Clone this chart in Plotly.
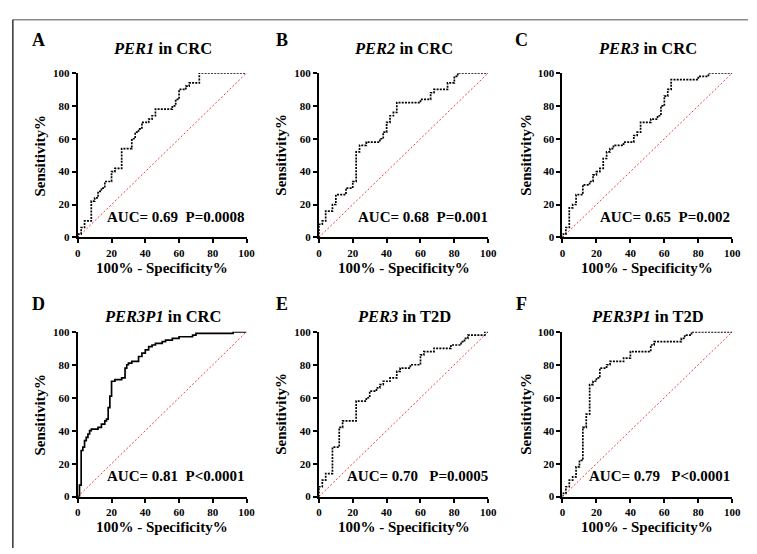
import plotly.graph_objects as go

W, H = 757, 554
FONT = "Liberation Serif, Times New Roman, serif"

# ---- data (staircase corner points: x = 100% - Specificity%, y = Sensitivity%) ----
per1_crc_fpr = [0, 0, 2, 4, 8, 10, 12, 14, 16, 20, 22, 26, 32, 34, 36, 38, 42, 44, 46, 56, 58, 60, 64, 66, 72, 100]
per1_crc_tpr = [0, 2, 6, 10, 22, 24, 28, 30, 34, 40, 42, 54, 60, 64, 66, 70, 72, 74, 78, 80, 84, 90, 92, 94, 100, 100]

per2_crc_fpr = [0, 0, 2, 4, 8, 10, 16, 20, 22, 24, 28, 36, 38, 40, 42, 44, 46, 60, 66, 68, 76, 80, 82, 100]
per2_crc_tpr = [0, 8, 10, 16, 20, 26, 30, 34, 52, 56, 58, 60, 64, 70, 74, 76, 82, 84, 88, 90, 94, 98, 100, 100]

per3_crc_fpr = [0, 0, 2, 4, 6, 8, 12, 16, 18, 20, 22, 24, 26, 28, 30, 36, 42, 44, 46, 52, 56, 58, 60, 62, 64, 80, 86, 100]
per3_crc_tpr = [0, 2, 6, 18, 20, 26, 32, 34, 38, 40, 42, 48, 52, 54, 56, 58, 62, 64, 70, 72, 74, 80, 86, 90, 96, 98, 100, 100]

per3p1_crc_fpr = [0, 1, 2, 3, 4, 5, 6, 7, 8, 12, 14, 16, 17, 18, 19, 20, 22, 26, 28, 29, 30, 32, 36, 38, 40, 42, 44, 46, 50, 52, 56, 60, 68, 70, 92, 100]
per3p1_crc_tpr = [0, 7, 28, 30, 34, 36, 38, 40, 41, 42, 44, 46, 47, 54, 61, 70, 71, 72, 78, 80, 81, 82, 85, 87, 89, 91, 92, 93, 94, 95, 96, 97, 98, 99, 100, 100]

per3_t2d_fpr = [0, 0, 2, 4, 8, 12, 14, 22, 28, 30, 34, 36, 38, 42, 46, 48, 54, 60, 62, 68, 78, 84, 86, 88, 98, 100]
per3_t2d_tpr = [0, 6, 10, 14, 30, 42, 46, 58, 60, 64, 66, 68, 70, 72, 76, 78, 80, 86, 88, 90, 92, 94, 96, 98, 100, 100]

per3p1_t2d_fpr = [0, 0, 2, 4, 6, 8, 10, 12, 14, 16, 18, 20, 22, 26, 28, 36, 40, 52, 54, 70, 72, 76, 100]
per3p1_t2d_tpr = [0, 2, 6, 10, 12, 18, 22, 42, 50, 68, 70, 72, 78, 80, 82, 84, 88, 92, 94, 96, 98, 100, 100]

letters = ["A", "B", "C", "D", "E", "F"]
genes = ["PER1", "PER2", "PER3", "PER3P1", "PER3", "PER3P1"]
diseases = ["CRC", "CRC", "CRC", "CRC", "T2D", "T2D"]
auc_labels = ["AUC= 0.69\u00a0\u00a0P=0.0008", "AUC= 0.68\u00a0\u00a0P=0.001", "AUC= 0.65\u00a0\u00a0P=0.002",
              "AUC= 0.81\u00a0\u00a0P&lt;0.0001", "AUC= 0.70\u00a0\u00a0\u00a0P=0.0005", "AUC= 0.79\u00a0\u00a0\u00a0P&lt;0.0001"]
ticks = [0, 20, 40, 60, 80, 100]

curves = [(per1_crc_fpr, per1_crc_tpr), (per2_crc_fpr, per2_crc_tpr), (per3_crc_fpr, per3_crc_tpr),
          (per3p1_crc_fpr, per3p1_crc_tpr), (per3_t2d_fpr, per3_t2d_tpr), (per3p1_t2d_fpr, per3p1_t2d_tpr)]

# ---- layout geometry (pixels in the window) ----
cols = [(76, 247.5), (321, 493), (568.5, 741)]
rows = [(68.5, 236.5), (333, 501.5)]
letter_x = [36, 283, 527]
letter_y = [35, 305]
title_y = [43, 317]
xtitle_y = [268, 533]
ytitle_x = [38, 283, 532]
auc_right = [0, 2, 0]

fig = go.Figure()
layout = dict(width=W, height=H, margin=dict(l=0, r=0, t=0, b=0),
              paper_bgcolor="white", plot_bgcolor="white", showlegend=False)
annotations = []


def px(x):
    return x / W


def py(y):
    return 1 - y / H


for i, (fx, ty) in enumerate(curves):
    r, c = divmod(i, 3)
    x0, x1 = cols[c]
    yt, yb = rows[r]
    sfx = "" if i == 0 else str(i + 1)
    xa, ya = "x" + sfx, "y" + sfx
    axis_common = dict(range=[0, 100], tickvals=ticks, showgrid=False, zeroline=False,
                       showline=True, linecolor="black", linewidth=2, ticks="outside",
                       ticklen=4, tickwidth=1.6, tickcolor="black",
                       tickfont=dict(family=FONT, size=11, color="black", weight="bold"))
    layout["xaxis" + sfx] = dict(domain=[px(x0), px(x1)], anchor=ya, **axis_common)
    layout["yaxis" + sfx] = dict(domain=[py(yb), py(yt)], anchor=xa, **axis_common)

    # diagonal reference line
    fig.add_trace(go.Scatter(x=[0, 100], y=[0, 100], mode="lines", xaxis=xa, yaxis=ya,
                             line=dict(color="#e8403f", width=1, dash="2px,2px"),
                             hoverinfo="skip", cliponaxis=False))
    # ROC curve
    dash = "solid" if i == 3 else "2px,1.2px"
    fig.add_trace(go.Scatter(x=fx, y=ty, mode="lines", xaxis=xa, yaxis=ya,
                             line=dict(color="black", width=1.7, shape="hv", dash=dash),
                             cliponaxis=False))

    cx = (x0 + x1) / 2
    cy = (yt + yb) / 2
    center = dict(xanchor="center", yanchor="middle", showarrow=False, xref="paper", yref="paper")
    annotations.append(dict(x=px(letter_x[c]), y=py(letter_y[r]), text="<b>%s</b>" % letters[i],
                            font=dict(family=FONT, size=18, color="black"), **center))
    annotations.append(dict(x=px(cx), y=py(title_y[r]),
                            text="<b><i>%s</i> in %s</b>" % (genes[i], diseases[i]),
                            font=dict(family=FONT, size=16.5, color="black"), **center))
    annotations.append(dict(x=px(cx), y=py(xtitle_y[r]), text="<b>100% - Specificity%</b>",
                            font=dict(family=FONT, size=15, color="black"), **center))
    annotations.append(dict(x=px(ytitle_x[c]), y=py(cy), text="<b>Sensitivity%</b>", textangle=-90,
                            font=dict(family=FONT, size=15, color="black"), **center))
    annotations.append(dict(x=100, y=12.5, xref=xa, yref=ya, xanchor="right", yanchor="middle",
                            xshift=auc_right[c], text="<b>%s</b>" % auc_labels[i], showarrow=False,
                            font=dict(family=FONT, size=15, color="black")))

layout["annotations"] = annotations
layout["shapes"] = [
    dict(type="line", xref="paper", yref="paper", x0=px(10), x1=1, y0=py(14), y1=py(14),
         line=dict(color="#8a8a8a", width=1.5)),
    dict(type="line", xref="paper", yref="paper", x0=px(10), x1=px(10), y0=py(14), y1=0,
         line=dict(color="#333333", width=1.5)),
]
fig.update_layout(**layout)
fig.write_html("out.html", config={"displayModeBar": False},
               post_script="document.body.style.margin='0';document.body.style.padding='0';"
                           "document.body.style.overflow='hidden';")
